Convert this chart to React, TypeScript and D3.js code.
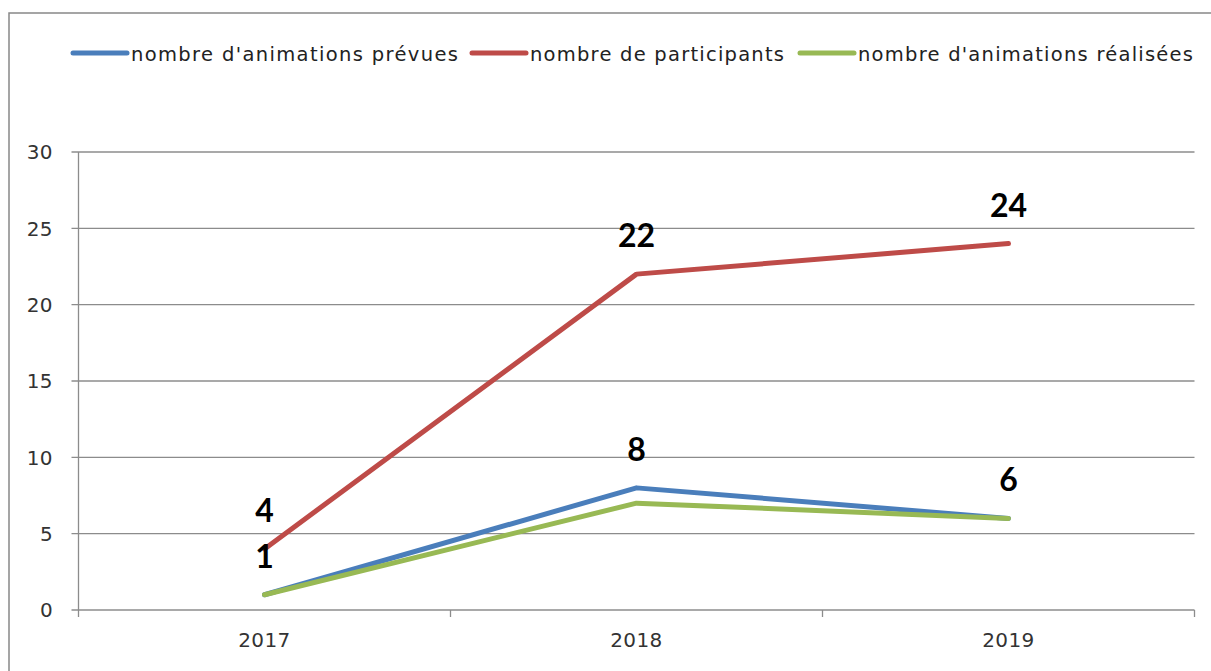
import React from "react";
import * as d3 from "d3";

const categories = ["2017", "2018", "2019"];
const prevues = [1, 8, 6];
const participants = [4, 22, 24];
const realisees = [1, 7, 6];
const yTicks = [0, 5, 10, 15, 20, 25, 30];
const seriesNames = ["nombre d'animations prévues", "nombre de participants", "nombre d'animations réalisées"];

const W = 1211, H = 671;
const M = { left: 78.5, right: 1194.5, top: 152, bottom: 610 };
const colors = ["#4a7ebb", "#be4b48", "#98b954"];

export default function App() {
  const x = d3.scaleBand<string>().domain(categories).range([M.left, M.right]);
  const y = d3.scaleLinear().domain([0, 30]).range([M.bottom, M.top]);
  const cx = (c: string) => (x(c) as number) + x.bandwidth() / 2;
  const line = d3.line<number>().x((_, i) => cx(categories[i])).y((v) => y(v));
  const series = [
    { name: seriesNames[0], data: prevues, color: colors[0], labels: true },
    { name: seriesNames[1], data: participants, color: colors[1], labels: true },
    { name: seriesNames[2], data: realisees, color: colors[2], labels: false },
  ];
  const drawOrder = [series[1], series[0], series[2]];
  const legendX = [73, 472, 800];
  const legendLen = [327, 254, 335];
  const tickPositions = [...categories.map((c) => x(c) as number), M.right];
  const font = "'DejaVu Sans', Verdana, sans-serif";
  return (
    <div style={{ position: "fixed", left: 0, top: 0 }}>
      <svg width={W} height={H} style={{ display: "block", background: "#fff" }}>
        <rect x={9} y={13} width={1300} height={700} fill="#fff" stroke="#888" strokeWidth={1.5} />
        {yTicks.map((t) => (
          <g key={t}>
            <line x1={M.left - 7} x2={M.right} y1={y(t)} y2={y(t)} stroke="#8c8c8c" strokeWidth={1.3} />
            <text x={53} y={y(t)} dy="0.36em" textAnchor="end" fontFamily={font} fontSize={20} letterSpacing={0.4} fill="#333">{t}</text>
          </g>
        ))}
        <line x1={M.left} x2={M.left} y1={M.top} y2={M.bottom} stroke="#8c8c8c" strokeWidth={1.3} />
        {tickPositions.map((p, i) => (
          <line key={i} x1={p} x2={p} y1={M.bottom} y2={M.bottom + 7} stroke="#8c8c8c" strokeWidth={1.3} />
        ))}
        {categories.map((c) => (
          <text key={c} x={cx(c)} y={647} textAnchor="middle" fontFamily={font} fontSize={20} letterSpacing={0.4} fill="#333">{c}</text>
        ))}
        {drawOrder.map((s) => (
          <path key={s.name} d={line(s.data) || ""} fill="none" stroke={s.color} strokeWidth={5} strokeLinecap="round" strokeLinejoin="round" />
        ))}
        {series.filter((s) => s.labels).map((s) =>
          s.data.map((v, i) => (
            <text key={s.name + i} x={cx(categories[i])} y={y(v) - 27} textAnchor="middle" fontFamily="Lato, 'Open Sans', sans-serif" fontWeight="bold" fontSize={32} fill="#000">{v}</text>
          ))
        )}
        {series.map((s, i) => (
          <g key={s.name}>
            <line x1={legendX[i]} x2={legendX[i] + 54} y1={53} y2={53} stroke={s.color} strokeWidth={5} strokeLinecap="round" />
            <text x={legendX[i] + 58} y={54} dy="0.36em" fontFamily={font} fontSize={19.5} textLength={legendLen[i]} lengthAdjust="spacing" fill="#222">{s.name}</text>
          </g>
        ))}
      </svg>
    </div>
  );
}
